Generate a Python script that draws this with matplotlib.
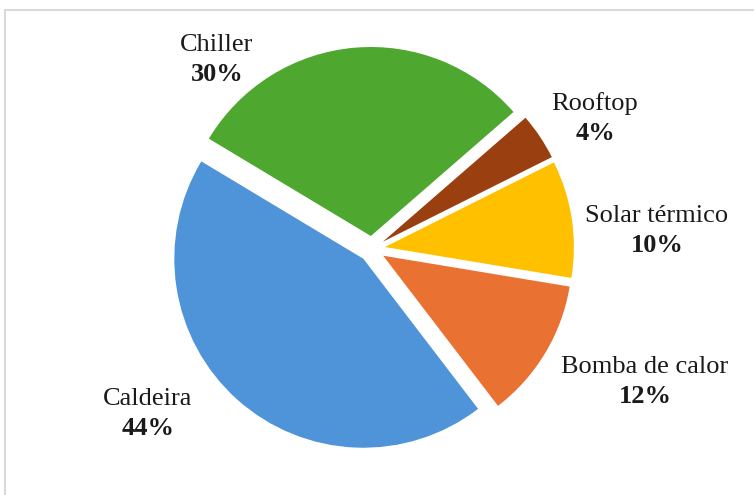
import matplotlib.pyplot as plt
from matplotlib.patches import Rectangle

# data
names = ["Caldeira", "Chiller", "Rooftop", "Solar térmico", "Bomba de calor"]
shares = [44, 30, 4, 10, 12]
colors = ["#4F94D8", "#4EA72E", "#9A3F10", "#FFC000", "#E97132"]

# label centres (data units, pie radius = 1)
label_pos = [(-1.185, -0.872), (-0.820, 1.001), (1.180, 0.688),
             (1.508, 0.096), (1.444, -0.703)]

plt.rcParams['font.family'] = ['Liberation Serif', 'DejaVu Serif']

W, H = 754, 495
R = 189.0          # pie radius in pixels
cx, cy = 372, 249  # pie centre in pixels

fig = plt.figure(figsize=(W / 100, H / 100), dpi=100)
ax = fig.add_axes([0, 0, 1, 1])

ax.pie(shares, colors=colors, startangle=307.4, counterclock=False,
       explode=[0.069] * len(shares), radius=1,
       wedgeprops=dict(linewidth=0))

ax.set_xlim(-cx / R, (W - cx) / R)
ax.set_ylim(-(H - cy) / R, cy / R)
ax.set_aspect('equal')
ax.axis('off')

dy = 15 / R
for name, v, (x, y) in zip(names, shares, label_pos):
    ax.text(x, y + dy, name, ha='center', va='center', fontsize=19, color='#1a1a1a')
    ax.text(x, y - dy, f"{v}%", ha='center', va='center', fontsize=19,
            fontweight='bold', color='#1a1a1a')

# chart border (cropped on right / bottom)
fig.patches.append(Rectangle((5 / W, -0.1), 2, (H - 10) / H + 0.1,
                             transform=fig.transFigure, fill=False,
                             edgecolor='#D9D9D9', linewidth=1.5))

fig.savefig("out.png", dpi=100)
